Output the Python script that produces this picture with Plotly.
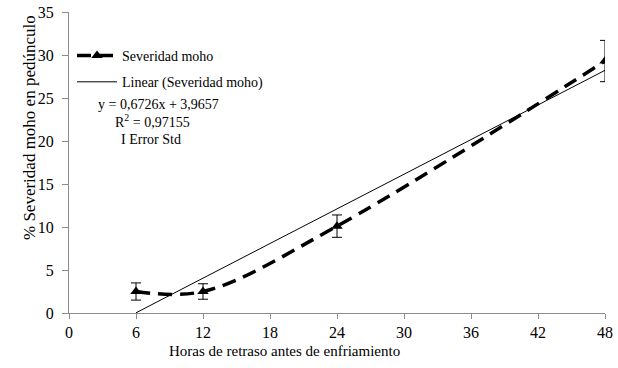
import numpy as np
import plotly.graph_objects as go

horas = [6, 12, 24, 48]
severidad = [2.5, 2.5, 10.1, 29.3]
error_std = [1.0, 0.9, 1.3, 2.4]
x_ticks = [0, 6, 12, 18, 24, 30, 36, 42, 48]
y_ticks = [0, 5, 10, 15, 20, 25, 30, 35]

slope, intercept = np.polyfit(horas, severidad, 1)
trend_x = [horas[0], horas[-1]]
trend_y = [slope * v + intercept for v in trend_x]

FONT = "Liberation Serif"
L, R, T, B = 69, 605, 12, 313
W, H = 618, 368
PW, PH = R - L, B - T


def px(x):
    return (x - L) / PW


def py(y):
    return (B - y) / PH


fig = go.Figure()
fig.add_trace(go.Scatter(
    x=horas, y=severidad, mode="lines+markers", name="Severidad moho",
    legendgroup="a",
    line=dict(color="black", width=3.5, dash="14px,8px", shape="spline", smoothing=1),
    marker=dict(symbol="triangle-up", size=10, color="black"),
    error_y=dict(type="data", array=error_std, color="black", thickness=1, width=5),
))
fig.add_trace(go.Scatter(
    x=trend_x, y=trend_y, mode="lines", name="Linear (Severidad moho)",
    legendgroup="b",
    line=dict(color="black", width=1),
))

fig.update_layout(
    width=W, height=H,
    margin=dict(l=L, r=W - R, t=T, b=H - B, autoexpand=False),
    paper_bgcolor="white", plot_bgcolor="white",
    font=dict(family=FONT, color="black", size=16),
    showlegend=True,
    legend=dict(x=px(72), y=py(40), xanchor="left", yanchor="top",
                font=dict(family=FONT, size=14), bgcolor="rgba(0,0,0,0)",
                itemwidth=40, tracegroupgap=5),
    xaxis=dict(range=[0, 48], tickvals=x_ticks, showgrid=False, zeroline=False,
               automargin=False,
               showline=True, linecolor="#8c8c8c", linewidth=1,
               ticks="outside", ticklen=5, tickcolor="#8c8c8c",
               tickfont=dict(size=16)),
    yaxis=dict(range=[0, 35], tickvals=y_ticks, showgrid=False, zeroline=False,
               automargin=False,
               showline=True, linecolor="#8c8c8c", linewidth=1,
               ticks="outside", ticklen=6, tickcolor="#8c8c8c",
               ticklabelstandoff=5,
               tickfont=dict(size=16)),
)

# axis titles (positioned as in the original)
fig.add_annotation(text="Horas de retraso antes de enfriamiento", xref="paper", yref="paper",
                   x=px(284), y=py(351), xanchor="center", yanchor="middle", showarrow=False,
                   font=dict(family=FONT, size=15, color="black"))
fig.add_annotation(text="% Severidad moho en pedúnculo", xref="paper", yref="paper",
                   x=px(30), y=py(128), xanchor="center", yanchor="middle", showarrow=False,
                   textangle=-90, font=dict(family=FONT, size=17, color="black"))

ann = [
    ("y = 0,6726x + 3,9657", 96, 104),
    ("R<sup>2</sup> = 0,97155", 113, 121),
    ("I Error Std", 119, 139),
]
for text, ax_, ay_ in ann:
    fig.add_annotation(text=text, xref="paper", yref="paper",
                       x=px(ax_), y=py(ay_),
                       xanchor="left", yanchor="middle", showarrow=False,
                       font=dict(family=FONT, size=14, color="black"))

fig.write_html("out.html", config={"displayModeBar": False},
               post_script="document.body.style.margin='0px';document.body.style.padding='0px';")
